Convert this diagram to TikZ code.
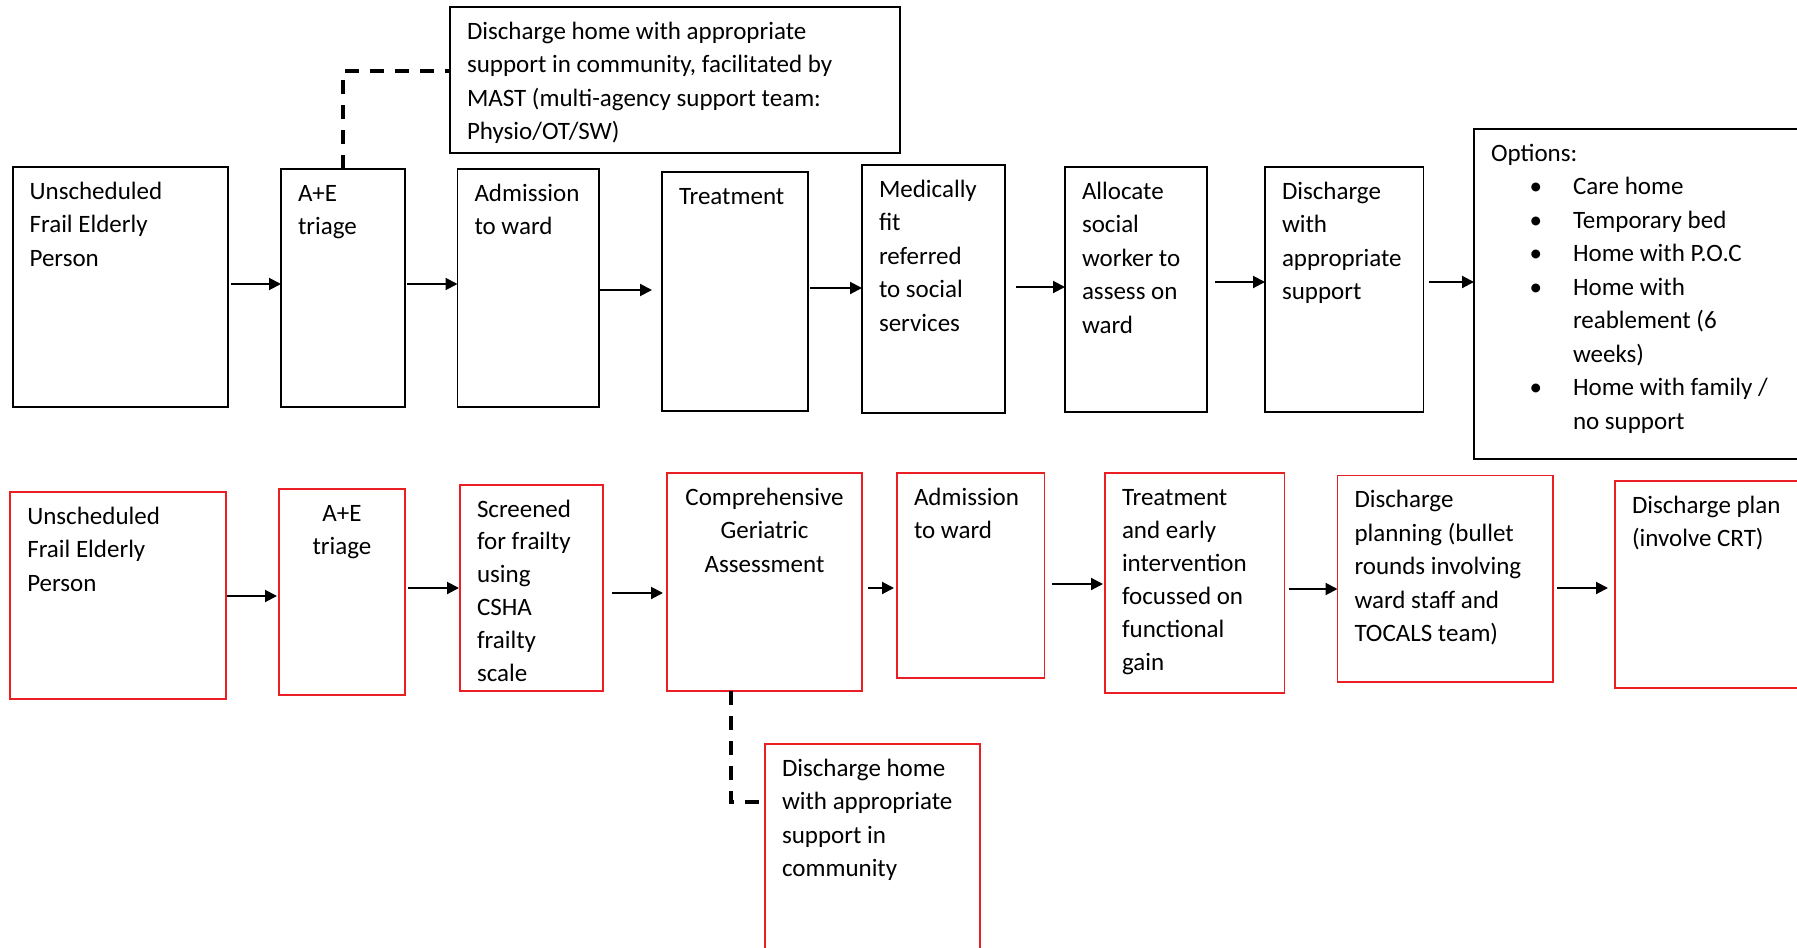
\documentclass[tikz,border=0pt]{standalone}
\usepackage{fontspec}
\setmainfont{Carlito}
\usetikzlibrary{arrows.meta,calc}
\definecolor{boxred}{RGB}{235,30,35}
\newcommand\bx[3]{\parbox[t][#2pt][t]{#1pt}{\raggedright\leftskip=17pt\relax\rule{0pt}{32pt}#3}}
\newcommand\bxc[3]{\parbox[t][#2pt][t]{#1pt}{\centering\rule{0pt}{32pt}#3}}
\newcommand\opitem[1]{{\leftskip=99pt\relax\noindent\llap{\textbullet\hspace{31pt}}#1\par}}
\newcommand\harrow[5]{\draw[arr] ($(#1.east |- 0,#3)+(#4,0)$) -- ($(#2.west |- 0,#3)+(-#5,0)$);}
\begin{document}
\begin{tikzpicture}[x=1pt,y=-1pt, font=\fontsize{25}{33.5}\selectfont,
  bbox/.style={draw=black, line width=1.8pt, inner sep=0pt, outer sep=0pt, anchor=north west},
  rbox/.style={draw=boxred, line width=1.8pt, inner sep=0pt, outer sep=0pt, anchor=north west},
  arr/.style={line width=2pt, -{Triangle[length=12pt,width=12pt]}},
  dsh/.style={line width=3.2pt, dash pattern=on 14pt off 11pt}]
\useasboundingbox (0,0) rectangle (1797,948);
\clip (0,0) rectangle (1797,948);
\fill[white] (0,0) rectangle (1797,948);
% top row
\node[bbox] (u1) at (12.6,167) {\bx{215}{240}{Unscheduled\\Frail Elderly\\Person}};
\node[bbox] (ae1) at (281,169) {\bx{124}{238}{A+E\\triage}};
\node[bbox] (adm1) at (457.5,169) {\bx{141.5}{238}{Admission\\to ward}};
\node[bbox] (treat1) at (662,172) {\bx{146}{239}{Treatment}};
\node[bbox] (med1) at (862,165) {\bx{143}{248}{Medically\\fit\\referred\\to social\\services}};
\node[bbox] (alloc) at (1065,167) {\bx{142}{245}{Allocate\\social\\worker to\\assess on\\ward}};
\node[bbox] (disw) at (1265,167) {\bx{158.5}{245}{Discharge\\with\\appropriate\\support}};
\node[bbox] (opt) at (1474,129) {\bx{340}{330}{Options:\par
  \opitem{Care home}
  \opitem{Temporary bed}
  \opitem{Home with P.O.C}
  \opitem{Home with\\reablement (6\\weeks)}
  \opitem{Home with family /\\no support}}};
\node[bbox] (mast) at (450,7) {\bx{450}{146}{Discharge home with appropriate\\support in community, facilitated by\\MAST (multi-agency support team:\\Physio/OT/SW)}};
% bottom row
\node[rbox] (u2) at (10.3,492) {\bx{215.3}{207}{Unscheduled\\Frail Elderly\\Person}};
\node[rbox] (ae2) at (279,489) {\bxc{126}{206}{A+E\\triage}};
\node[rbox] (scr) at (460,485) {\bx{143}{206}{\fontsize{25}{32.8}\selectfont Screened\\for frailty\\using\\CSHA\\frailty\\scale}};
\node[rbox] (cga) at (667,473) {\bxc{195}{218}{Comprehensive\\Geriatric\\Assessment}};
\node[rbox] (adm2) at (897,473) {\bx{147.5}{205}{Admission\\to ward}};
\node[rbox] (treat2) at (1105,473) {\bx{179.5}{220}{\fontsize{25}{33}\selectfont Treatment\\and early\\intervention\\focussed on\\functional\\gain}};
\node[rbox] (dp) at (1337.5,475.5) {\bx{215.5}{206.5}{Discharge\\planning (bullet\\rounds involving\\ward staff and\\TOCALS team)}};
\node[rbox] (plan) at (1615,481) {\bx{200}{207}{Discharge plan\\(involve CRT)}};
\node[rbox] (dh) at (765,744) {\bx{215}{220}{Discharge home\\with appropriate\\support in\\community}};
% top arrows
\harrow{u1}{ae1}{284}{3}{0}
\harrow{ae1}{adm1}{284}{2}{0}
\harrow{adm1}{treat1}{290}{1}{10}
\harrow{treat1}{med1}{288}{2}{0}
\harrow{med1}{alloc}{287}{11}{0}
\harrow{alloc}{disw}{282}{8}{0}
\harrow{disw}{opt}{282}{5}{0}
% bottom arrows
\harrow{u2}{ae2}{596}{1}{2}
\harrow{ae2}{scr}{588}{3}{1}
\harrow{scr}{cga}{593}{9}{4}
\harrow{cga}{adm2}{588}{6}{3}
\harrow{adm2}{treat2}{584}{7}{2}
\harrow{treat2}{dp}{589}{4}{0}
\harrow{dp}{plan}{588}{4}{7}
% dashed links
\draw[dsh] (ae1.north) |- ($(mast.west)+(0,-9)$);
\draw[dsh] ($(cga.south)+(-33.5,0)$) |- ($(dh.north west)+(0,58)$);
\end{tikzpicture}
\end{document}
